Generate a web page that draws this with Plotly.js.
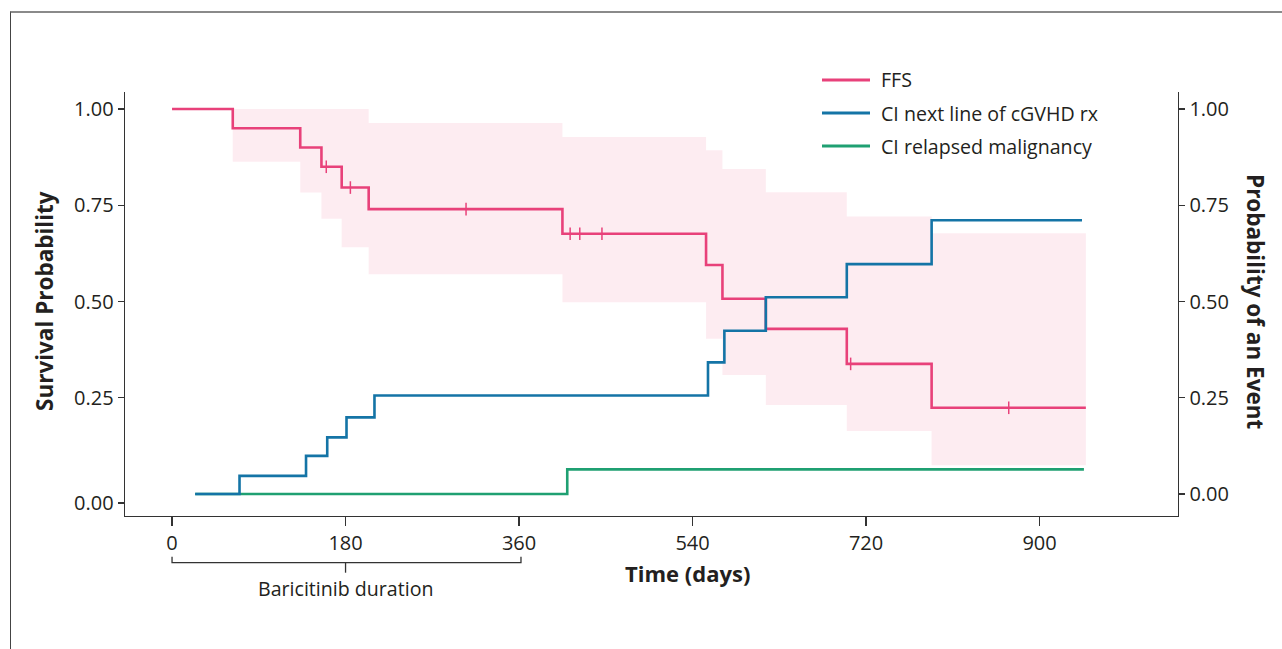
<!DOCTYPE html>
<html><head><meta charset="utf-8">
<script src="https://cdn.plot.ly/plotly-3.0.1.min.js"></script>
<style>
html,body{margin:0;padding:0;background:#fff;overflow:hidden;}
#frame{position:absolute;left:10px;top:11px;width:1280px;height:650px;border-top:2px solid #8a8a8a;border-left:1px solid #444;}
#chart{position:absolute;left:0;top:0;width:1282px;height:649px;}
</style></head><body>
<div id="frame"></div><div id="chart"></div>
<script>
// ---- data ----
const seriesNames = ["FFS", "CI next line of cGVHD rx", "CI relapsed malignancy"];
const seriesColors = ["#e8417a", "#1474a6", "#1fa072"];

const ffsTime = [0, 63, 133, 155, 176, 204, 405, 554, 571, 616, 700, 788, 948];
const ffsSurv = [1.00, 0.950, 0.900, 0.850, 0.796, 0.740, 0.676, 0.595, 0.507, 0.429, 0.338, 0.224, 0.224];
const ffsCensorTime = [160, 185, 305, 413, 423, 446, 704, 868];

const bandTime  = [63, 133, 155, 176, 204, 405, 554, 571, 616, 700, 788, 948];
const bandUpper = [1.00, 1.00, 1.00, 1.00, 0.964, 0.927, 0.893, 0.844, 0.784, 0.721, 0.677, 0.677];
const bandLower = [0.863, 0.783, 0.715, 0.641, 0.571, 0.498, 0.403, 0.309, 0.231, 0.164, 0.075, 0.075];

const nextTime = [24, 70, 139, 161, 181, 210, 556, 573, 616, 700, 788, 944];
const nextCI   = [0, 0.047, 0.099, 0.147, 0.199, 0.256, 0.342, 0.424, 0.511, 0.597, 0.711, 0.711];

const relTime = [24, 410, 946];
const relCI   = [0, 0.064, 0.064];

const xTicks = [0, 180, 360, 540, 720, 900];
const yTickVals = [1.0, 0.75, 0.5, 0.25, 0.0];
const yTickText = ["1.00", "0.75", "0.50", "0.25", "0.00"];
const baricitinibDays = [0, 362];

// ---- helpers ----
function stepValueAt(times, vals, t) {
  let v = vals[0];
  for (let i = 0; i < times.length; i++) { if (times[i] <= t) v = vals[i]; }
  return v;
}
const censorSurv = ffsCensorTime.map(t => stepValueAt(ffsTime, ffsSurv, t));

const FONT = "Open Sans, Noto Sans, sans-serif";
const TXT = "#231f20";

const traces = [
  {x: bandTime, y: bandUpper, type: "scatter", mode: "lines", line: {shape: "hv", width: 0},
   hoverinfo: "skip", showlegend: false},
  {x: bandTime, y: bandLower, type: "scatter", mode: "lines", line: {shape: "hv", width: 0},
   fill: "tonexty", fillcolor: "rgba(232,65,122,0.10)", hoverinfo: "skip", showlegend: false},
  {x: ffsTime, y: ffsSurv, type: "scatter", mode: "lines", name: seriesNames[0],
   line: {shape: "hv", width: 2.6, color: seriesColors[0]}, showlegend: false},
  {x: ffsCensorTime, y: censorSurv, type: "scatter", mode: "markers", showlegend: false,
   marker: {symbol: "line-ns", size: 9, line: {width: 1.5, color: seriesColors[0]}}},
  {x: relTime, y: relCI, type: "scatter", mode: "lines", name: seriesNames[2], yaxis: "y2",
   line: {shape: "hv", width: 2.6, color: seriesColors[2]}, showlegend: false},
  {x: nextTime, y: nextCI, type: "scatter", mode: "lines", name: seriesNames[1], yaxis: "y2",
   line: {shape: "hv", width: 2.6, color: seriesColors[1]}, showlegend: false}
];

// plot area in pixels: x 125..1178, y 92..516
const L = 125, R = 1178, T = 92, B = 516;
const px2x = p => (p - L) / (R - L);
const py2y = p => (B - p) / (B - T);

const yRange = [-0.0571, 1.0442];
const xRange = [-48.8, 1043.6];

const shapes = [];
const annotations = [];

// manual legend
const legY = [80, 113, 146];
seriesNames.forEach((n, i) => {
  shapes.push({type: "line", xref: "paper", yref: "paper",
    x0: px2x(822), x1: px2x(870), y0: py2y(legY[i]), y1: py2y(legY[i]),
    line: {color: seriesColors[i], width: 2.8}});
  annotations.push({xref: "paper", yref: "paper", x: px2x(879), y: py2y(legY[i]),
    xanchor: "left", yanchor: "middle", showarrow: false, text: n,
    font: {family: FONT, size: 19.6, color: TXT}});
});

// baricitinib bracket
const bTop = py2y(556.7), bMid = py2y(562.7), bBot = py2y(572.7);
shapes.push({type: "path", xref: "x", yref: "paper",
  path: `M${baricitinibDays[0]},${bTop} L${baricitinibDays[0]},${bMid} L${baricitinibDays[1]},${bMid} L${baricitinibDays[1]},${bTop}`,
  line: {color: "#333", width: 1.3}});
shapes.push({type: "line", xref: "x", yref: "paper", x0: 180, x1: 180, y0: bMid, y1: bBot,
  line: {color: "#333", width: 1.3}});
annotations.push({xref: "x", yref: "paper", x: 180, y: py2y(588), xanchor: "center", yanchor: "middle",
  showarrow: false, text: "Baricitinib duration", font: {family: FONT, size: 19.6, color: TXT}});

// axis titles
annotations.push({xref: "paper", yref: "paper", x: px2x(44), y: py2y(301), textangle: -90,
  xanchor: "center", yanchor: "middle", showarrow: false, text: "<b>Survival Probability</b>",
  font: {family: FONT, size: 22.5, color: TXT}});
annotations.push({xref: "paper", yref: "paper", x: px2x(1256), y: py2y(302), textangle: 90,
  xanchor: "center", yanchor: "middle", showarrow: false, text: "<b>Probability of an Event</b>",
  font: {family: FONT, size: 22.5, color: TXT}});
annotations.push({xref: "paper", yref: "paper", x: px2x(687), y: py2y(573),
  xanchor: "center", yanchor: "middle", showarrow: false, text: "<b>Time (days)</b>",
  font: {family: FONT, size: 22, color: TXT}});

const axisCommon = {showgrid: false, zeroline: false, showline: true, linecolor: "#333", linewidth: 1.4,
  ticks: "outside", tickcolor: "#333", tickwidth: 1.3, tickfont: {family: FONT, size: 20, color: TXT}, fixedrange: true};

const layout = {
  width: 1282, height: 649,
  margin: {l: L, r: 1282 - R, t: T, b: 649 - B, pad: 0},
  paper_bgcolor: "rgba(0,0,0,0)", plot_bgcolor: "rgba(0,0,0,0)",
  showlegend: false,
  xaxis: Object.assign({}, axisCommon, {range: xRange, tickvals: xTicks, ticktext: xTicks.map(String), ticklen: 9}),
  yaxis: Object.assign({}, axisCommon, {range: yRange, tickvals: [1.0, 0.75, 0.5, 0.25, -0.023], ticktext: yTickText, ticklen: 6}),
  yaxis2: Object.assign({}, axisCommon, {range: yRange, tickvals: yTickVals, ticktext: yTickText, ticklen: 6,
    overlaying: "y", side: "right"}),
  shapes: shapes,
  annotations: annotations
};

Plotly.newPlot("chart", traces, layout, {displayModeBar: false, staticPlot: true});
</script>
</body></html>
